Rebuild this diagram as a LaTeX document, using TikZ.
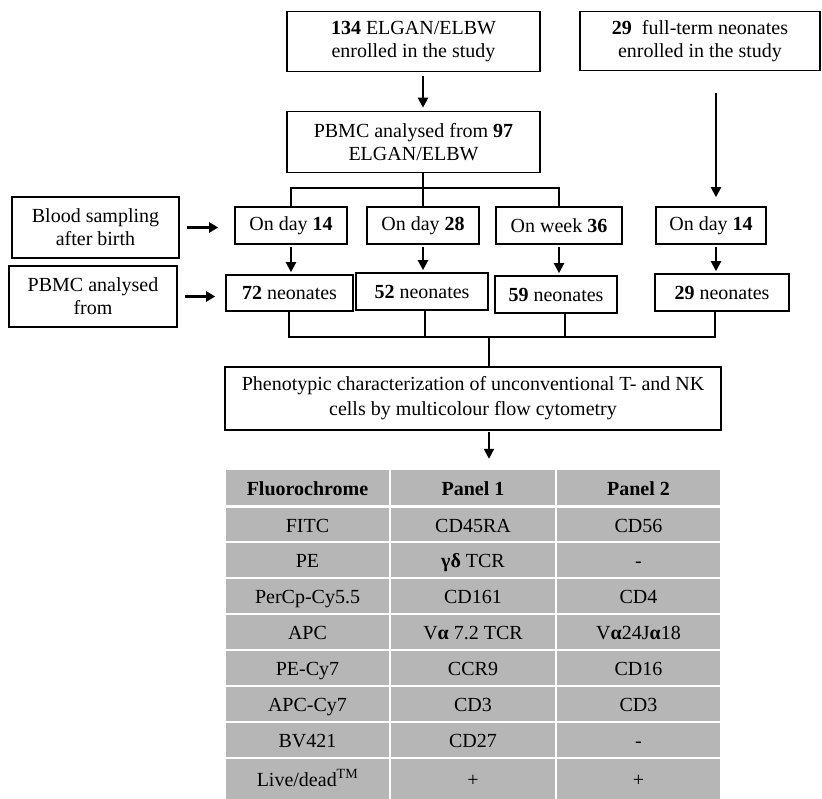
\documentclass[tikz,border=0pt]{standalone}
\usepackage{fontspec}
\setmainfont{Liberation Serif}
\usetikzlibrary{arrows.meta}
\definecolor{tgray}{RGB}{182,182,182}
\newcommand\trow[6]{%
  \node[cell, minimum width=163pt, minimum height=#3] (#1a) at (307.5,#2) {#4};
  \node[cell, minimum width=164pt, minimum height=#3] (#1b) at (473,#2) {#5};
  \node[cell, minimum width=163pt, minimum height=#3] (#1c) at (638.5,#2) {#6};}
\begin{document}
\begin{tikzpicture}[x=1pt,y=-1pt,
  box/.style={draw, line width=1.6pt, inner sep=0pt, align=center, font=\fontsize{20}{23}\selectfont},
  arr/.style={line width=2.2pt, -{Triangle[length=10pt,width=10pt]}},
  sarr/.style={line width=2.8pt, -{Triangle[length=9pt,width=10pt]}},
  conn/.style={line width=1.3pt},
  cell/.style={fill=tgray, inner sep=0pt, text height=15pt, text depth=0pt, font=\fontsize{20}{24}\selectfont, anchor=center}
]
\useasboundingbox (0,0) rectangle (822,799);

% top boxes
\node[box, minimum width=253pt, minimum height=60pt] (A) at (413.5,41.5) {\textbf{134} ELGAN/ELBW\\enrolled in the study};
\node[box, minimum width=240pt, minimum height=59pt] (B) at (700,41) {\textbf{29}\ \ full-term neonates\\enrolled in the study};
\node[box, minimum width=253pt, minimum height=61pt] (P) at (413.5,142) {PBMC analysed from \textbf{97}\\ELGAN/ELBW};

% row 1
\node[box, minimum width=167pt, minimum height=61pt] (Bl) at (95.5,227.5) {Blood sampling\\after birth};
\node[box, minimum width=112pt, minimum height=37pt] (D14) at (291,225.5) {On day \textbf{14}};
\node[box, minimum width=112pt, minimum height=37pt] (D28) at (423,225.5) {On day \textbf{28}};
\node[box, minimum width=126pt, minimum height=37pt] (W36) at (559,225.5) {On week \textbf{36}};
\node[box, minimum width=110pt, minimum height=37pt] (D14b) at (711,225.5) {On day \textbf{14}};

% row 2
\node[box, minimum width=168pt, minimum height=61pt] (Pf) at (93,296.5) {PBMC analysed\\from};
\node[box, minimum width=127pt, minimum height=36pt] (N72) at (289.5,293) {\textbf{72} neonates};
\node[box, minimum width=132pt, minimum height=37pt] (N52) at (422,291.5) {\textbf{52} neonates};
\node[box, minimum width=122pt, minimum height=37pt] (N59) at (556,294.5) {\textbf{59} neonates};
\node[box, minimum width=134pt, minimum height=37pt] (N29) at (722,292.5) {\textbf{29} neonates};

% phenotypic box
\node[box, minimum width=496pt, minimum height=63pt, font=\fontsize{20}{25}\selectfont] (Ph) at (473,398.5) {Phenotypic characterization of unconventional T- and NK\\cells by multicolour flow cytometry};

% table
\trow{h}{487.5}{35pt}{\textbf{Fluorochrome}}{\textbf{Panel 1}}{\textbf{Panel 2}}
\trow{ra}{524.5}{33pt}{FITC}{CD45RA}{CD56}
\trow{rb}{560}{34pt}{PE}{\textbf{γδ} TCR}{-}
\trow{rc}{596}{34pt}{PerCp-Cy5.5}{CD161}{CD4}
\trow{rd}{632}{34pt}{APC}{V\textbf{α} 7.2 TCR}{V\textbf{α}24J\textbf{α}18}
\trow{re}{668}{34pt}{PE-Cy7}{CCR9}{CD16}
\trow{rf}{704}{34pt}{APC-Cy7}{CD3}{CD3}
\trow{rg}{740}{34pt}{BV421}{CD27}{-}
\trow{rh}{779}{40pt}{Live/dead\textsuperscript{TM}}{+}{+}

% helper coordinates
\coordinate (c1) at (423,0);
\coordinate (c2) at (716,0);
\coordinate (bar1) at (0,188);
\coordinate (bar2) at (0,337);
\coordinate (d1) at (289,0);
\coordinate (d2) at (425,0);
\coordinate (d3) at (565,0);
\coordinate (d4) at (715,0);
\coordinate (c3) at (489,0);

% connectors top
\draw[arr, shorten <=4pt, shorten >=3pt] (A.south -| c1) -- (P.north -| c1);
\draw[arr, shorten <=22pt, shorten >=9pt] (B.south -| c2) -- (D14b.north -| c2);
\draw[conn] (P.south -| c1) -- (D28.north);
\draw[conn] (D14.north) |- (W36.north |- bar1) -- (W36.north);

% side arrows
\draw[sarr, shorten <=7pt, shorten >=16pt] (Bl.east) -- (D14.west |- Bl.east);
\draw[sarr, shorten <=7pt, shorten >=10pt] (Pf.east) -- (N72.west |- Pf.east);

% row1 -> row2
\draw[arr, shorten <=2pt, shorten >=2pt] (D14.south) -- (N72.north -| D14.south);
\draw[arr, shorten <=2pt, shorten >=2pt] (D28.south) -- (N52.north -| D28.south);
\draw[arr, shorten <=2pt, shorten >=2pt] (W36.south) -- (N59.north -| W36.south);
\draw[arr, shorten <=2pt, shorten >=2pt] (D14b.south -| c2) -- (N29.north -| c2);

% bottom bar
\draw[conn] (N72.south -| d1) -- (bar2 -| d1) -- (bar2 -| d4) -- (N29.south -| d4);
\draw[conn] (N52.south -| d2) -- (bar2 -| d2);
\draw[conn] (N59.south -| d3) -- (bar2 -| d3);
\draw[conn] (bar2 -| c3) -- (Ph.north -| c3);

% to table
\draw[arr, shorten <=1pt, shorten >=11pt] (Ph.south -| c3) -- (hb.north -| c3);
\end{tikzpicture}
\end{document}
